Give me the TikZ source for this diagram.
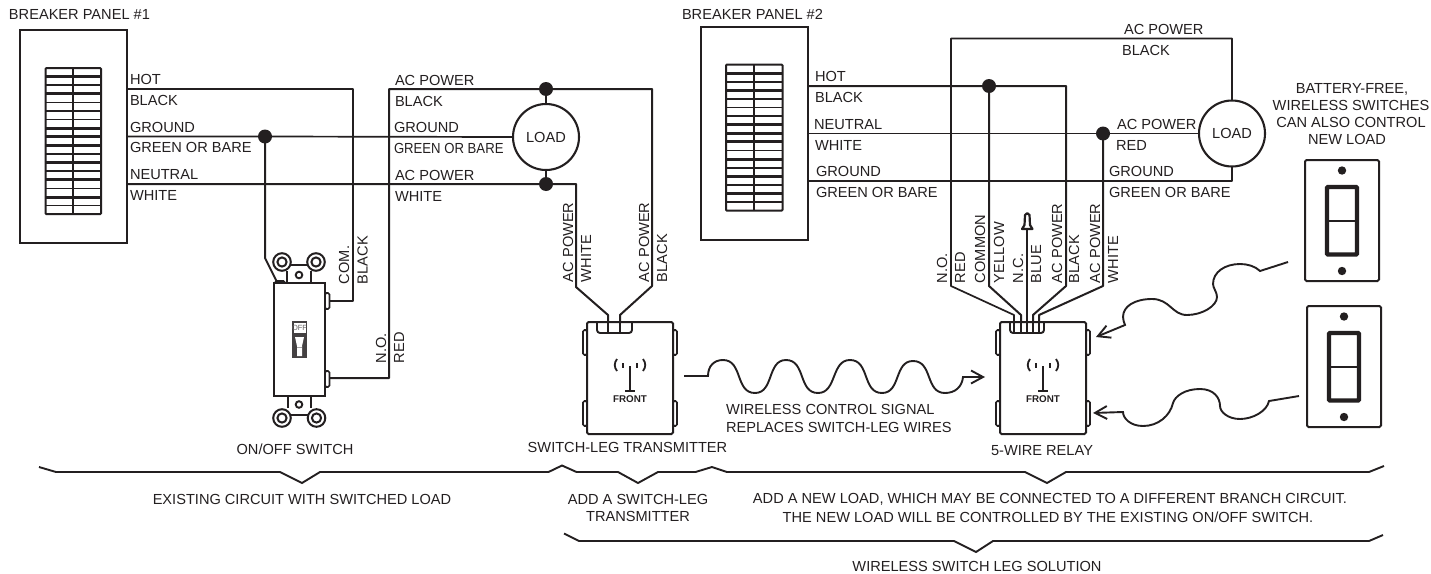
\documentclass[tikz,border=0pt]{standalone}
\usepackage{fontspec}
\setmainfont{Liberation Sans}
\usetikzlibrary{arrows.meta}
\definecolor{ink}{HTML}{231F20}
\tikzset{
  wire/.style={draw=ink,line width=2pt,line join=round},
  thinw/.style={draw=ink,line width=1.7pt,line join=round},
  box/.style={draw=ink,line width=2pt,fill=white,inner sep=0,outer sep=0,rounded corners=1.5pt},
  lab/.style={text=ink,font=\fontsize{14.6}{16}\selectfont,inner sep=0,outer sep=0,text height=10.4pt,text depth=0pt},
  ll/.style={lab,anchor=west},
  rl/.style={lab,anchor=west,rotate=90},
  dotn/.style={circle,fill=ink,inner sep=0,outer sep=0,minimum size=14pt},
  loadn/.style={circle,draw=ink,line width=2.1pt,fill=white,inner sep=0,outer sep=0,minimum size=66pt,text=ink,font=\fontsize{14.6}{16}\selectfont},
  brace/.style={draw=ink,line width=1.9pt,line join=miter},
  arr/.style={draw=ink,line width=1.9pt,-{Straight Barb[length=12pt,width=13pt,line width=1.9pt]}},
}
% breaker grid: #1 left x, #2 top y, #3 pitch, #4 width
\newcommand{\grid}[4]{%
  \draw[draw=ink,line width=2pt,rounded corners=1pt] (#1,#2) rectangle ({#1+#4},{#2+17*#3});
  \foreach \i in {2,4,5,6,10,12,14,16}{\draw[draw=ink,line width=1.7pt] (#1,{#2+\i*#3}) -- ({#1+#4},{#2+\i*#3});}
  \foreach \i in {1,3,7,8,9,11,13,15}{\draw[draw=ink,line width=3pt] (#1,{#2+\i*#3}) -- ({#1+#4},{#2+\i*#3});}
  \draw[draw=ink,line width=2.4pt] ({#1+#4/2},#2) -- ({#1+#4/2},{#2+17*#3});
}
% device housing: #1 name, #2 centre x
\newcommand{\device}[2]{%
  \foreach \yy in {330,401}{
    \draw[box,line width=1.7pt] ({#2-47},\yy) rectangle ({#2-43},{\yy+25});
    \draw[box,line width=1.7pt] ({#2+43},\yy) rectangle ({#2+47},{\yy+25});
  }
  \node[box,minimum width=86pt,minimum height=112pt] (#1) at (#2,378) {};
}
\newcommand{\antenna}[1]{%
  \draw[draw=ink,line width=1.9pt] (#1,366) -- (#1,391);
  \draw[draw=ink,line width=1.9pt] ({#1-5},391) -- ({#1+5},391);
  \draw[draw=ink,line width=1.8pt] ({#1-13},359) .. controls ({#1-16},363) and ({#1-16},367) .. ({#1-13},371);
  \draw[draw=ink,line width=1.8pt] ({#1+13},359) .. controls ({#1+16},363) and ({#1+16},367) .. ({#1+13},371);
  \draw[draw=ink,line width=1.6pt] ({#1-7},363) -- ({#1-7},368);
  \draw[draw=ink,line width=1.6pt] ({#1+7},363) -- ({#1+7},368);
  \node[text=ink,font=\bfseries\fontsize{9.8}{10}\selectfont,inner sep=0] at (#1,399) {FRONT};
}
\newcommand{\ring}[2]{\draw[draw=ink,line width=2pt,fill=white] (#1,#2) circle (8.8); \draw[draw=ink,line width=2pt,fill=white] (#1,#2) circle (4.6);}
\newcommand{\wallplate}[2]{% x left, y top
  \draw[box] (#1,#2) rectangle ({#1+74},{#2+121});
  \fill[ink] ({#1+37},{#2+10.5}) circle (4.2);
  \fill[ink] ({#1+37},{#2+111}) circle (4.2);
  \draw[draw=ink,line width=4.4pt,rounded corners=1pt] ({#1+22},{#2+27}) rectangle ({#1+52},{#2+94.5});
  \draw[draw=ink,line width=1.4pt] ({#1+22},{#2+61}) -- ({#1+52},{#2+61});
}
\begin{document}
\begin{tikzpicture}[x=1pt,y=-1pt]
\useasboundingbox (0,0) rectangle (1431,573);

% ---------- breaker panels
\node[box,minimum width=107pt,minimum height=213pt,rounded corners=0pt] (panelA) at (73.5,136.5) {};
\grid{45.5}{68}{8.6}{55.5}
\node[box,minimum width=107pt,minimum height=213pt,rounded corners=0pt] (panelB) at (754.5,133.5) {};
\grid{726}{64.5}{8.6}{56.5}
\node[ll] at (9,14) {BREAKER PANEL \#1};
\node[ll] at (682,14) {BREAKER PANEL \#2};

% ---------- named parts of circuit 1
\node[dotn] (dotG) at (265,136.5) {};
\node[dotn] (dotP) at (546,89) {};
\node[dotn] (dotN) at (546,184) {};
\node[loadn] (loadA) at (546,137) {LOAD};

% switch terminals
\coordinate (swCom) at (329,301);
\coordinate (swNo) at (329,378);
\coordinate (swGnd) at (277,282);
% transmitter leads
\coordinate (txW) at (608,328);
\coordinate (txB) at (620,328);

% wires circuit 1
\draw[wire] (panelA.east |- 0,89) -- (353,89) -- (353,301) -- (swCom);
\draw[thinw] (panelA.east |- dotG) -- (dotG.center) -- (loadA.west);
\draw[wire] (dotG.center) -- (265,258) -- (swGnd);
\draw[wire] (panelA.east |- dotN) -- (dotN.center) -- (576,184) -- (576,287) -- (608,315) -- (txW);
\draw[wire] (swNo) -- (389,378) -- (389,89) -- (dotP.center) -- (652,89) -- (652,286) -- (620,315) -- (txB);
\draw[wire] (dotP.center) -- (loadA.north);
\draw[wire] (dotN.center) -- (loadA.south);

% labels circuit 1
\node[ll] at (130,79) {HOT};
\node[ll] at (130,100.5) {BLACK};
\node[ll] at (130,127) {GROUND};
\node[ll] at (130,147.5) {GREEN OR BARE};
\node[ll] at (130,174) {NEUTRAL};
\node[ll] at (130,195.5) {WHITE};
\node[ll] at (395,80) {AC POWER};
\node[ll] at (395,101) {BLACK};
\node[ll] at (394,127.5) {GROUND};
\node[ll] at (394,148.5) {\scalebox{0.9}[1]{GREEN OR BARE}};
\node[ll] at (395,175) {AC POWER};
\node[ll] at (395,196) {WHITE};
\node[rl] at (344,284) {COM.};
\node[rl] at (362.5,284) {BLACK};
\node[rl] at (381,363) {N.O.};
\node[rl] at (399,363) {RED};
\node[rl] at (568,282) {AC POWER};
\node[rl] at (586,282) {WHITE};
\node[rl] at (644,282) {AC POWER};
\node[rl] at (662,282) {BLACK};

% ---------- on/off switch
\draw[draw=ink,line width=2pt] (287,283) -- (287,271) (311,283) -- (311,271) (290,264.5) -- (308,264.5);
\draw[draw=ink,line width=2pt] (288,396) -- (288,408) (311,396) -- (311,408) (290,415) -- (308,415);
\ring{282}{262}\ring{316}{262}\ring{282}{418}\ring{316.5}{418}
\draw[draw=ink,line width=1.9pt,fill=white] (299,275) circle (3.3);
\draw[draw=ink,line width=1.9pt,fill=white] (299,404.5) circle (3.3);
\draw[box,line width=1.6pt] (275,281) rectangle (285,284);
\draw[box,line width=1.7pt] (325,293) rectangle (329.5,309);
\draw[box,line width=1.7pt] (325,371) rectangle (329.5,387);
\node[box,minimum width=51.5pt,minimum height=113pt,rounded corners=0pt] (sw) at (299.25,339.5) {};
\fill[ink!85] (292,321) rectangle (307,358);
\fill[white] (293.5,322.5) rectangle (305.5,333);
\node[text=ink!70,font=\fontsize{7.5}{8}\selectfont,inner sep=0] at (299.5,328) {OFF};
\fill[white] (295,337) -- (304,337) -- (302,346) -- (302,356) -- (297,356) -- (297,346) -- cycle;
\fill[white!60!ink] (297,346.5) rectangle (302,348);
\node[lab] at (295,449) {ON/OFF SWITCH};

% ---------- transmitter
\device{tx}{630}
\draw[draw=ink,line width=1.9pt,rounded corners=3pt] (597,322) -- (597,333) -- (632,333) -- (632,322);
\draw[wire] (608,315) -- (txW) -- (608,332);
\draw[wire] (620,315) -- (txB) -- (620,332);
\antenna{630}
\node[lab] at (627.5,447) {SWITCH-LEG TRANSMITTER};

% ---------- wireless signal
\coordinate (sigStart) at (684,376);
\coordinate (sigEnd) at (985,377);
\draw[arr] (sigStart) -- (708,376)
  .. controls (708,366) and (714,360) .. (723,360)
  .. controls (743,360) and (735,393) .. (755,393)
  .. controls (774,393) and (767,360) .. (786,360)
  .. controls (806,360) and (798,393) .. (818,393)
  .. controls (837,393) and (831,360) .. (850,360)
  .. controls (870,360) and (862,393) .. (882,393)
  .. controls (901,393) and (894,361) .. (913,361)
  .. controls (933,361) and (925,393) .. (945,393)
  .. controls (955,393) and (962,387) .. (963,377)
  -- (sigEnd);
\node[ll] at (726,409) {WIRELESS CONTROL SIGNAL};
\node[ll] at (726,427) {REPLACES SWITCH-LEG WIRES};

% ---------- circuit 2
\node[dotn] (dotH) at (989,86) {};
\node[dotn] (dotR) at (1103,133.5) {};
\node[loadn] (loadB) at (1232,133.5) {LOAD};

\coordinate (reNo) at (1014,332);
\coordinate (reCo) at (1021,332);
\coordinate (reNc) at (1027,332);
\coordinate (reBk) at (1033,332);
\coordinate (reWh) at (1039,332);

\draw[wire] (panelB.east |- dotH) -- (dotH.center) -- (1066,86) -- (1066,286) -- (1033,315) -- (reBk);
\draw[thinw] (panelB.east |- loadB.west) -- (dotR.center) -- (loadB.west);
\draw[thinw] (panelB.east |- 0,181) -- (1232,181) -- (loadB.south);
\draw[thinw] (loadB.north) -- (1232,38.5) -- (951,38.5) -- (951,286) -- (1014,315) -- (reNo);
\draw[wire] (dotH.center) -- (989,286) -- (1021,315) -- (reCo);
\draw[wire] (dotR.center) -- (1103,286) -- (1039,315) -- (reWh);
\coordinate (nut) at (1027,229);
\draw[wire] (nut) -- (reNc);
\draw[draw=ink,line width=2.2pt,fill=white,line join=round] (1022,229) -- (1024.5,225) -- (1025,215) .. controls (1025.5,212.5) and (1029,212.5) .. (1029.5,215) -- (1030,225) -- (1032.5,229) -- cycle;

\device{re}{1043}
\draw[draw=ink,line width=1.9pt,rounded corners=3pt] (1010,322) -- (1010,333) -- (1044,333) -- (1044,322);
\foreach \w/\xx in {reNo/1014,reCo/1021,reNc/1027,reBk/1033,reWh/1039}{\draw[draw=ink,line width=1.9pt] (\w) -- (\xx,315);}
\antenna{1043}
\node[lab] at (1042,450) {5-WIRE RELAY};

\node[ll] at (815,76) {HOT};
\node[ll] at (815,97) {BLACK};
\node[ll] at (814,124) {NEUTRAL};
\node[ll] at (815,145) {WHITE};
\node[ll] at (816,171) {GROUND};
\node[ll] at (816,192) {GREEN OR BARE};
\node[ll] at (1124,29) {AC POWER};
\node[ll] at (1122,50) {BLACK};
\node[ll] at (1117,124) {AC POWER};
\node[ll] at (1116,145) {RED};
\node[ll] at (1109,171) {GROUND};
\node[ll] at (1109,192) {GREEN OR BARE};
\node[rl] at (942,283) {N.O.};
\node[rl] at (960,283) {RED};
\node[rl] at (980,283) {COMMON};
\node[rl] at (999,283) {YELLOW};
\node[rl] at (1018,283) {N.C.};
\node[rl] at (1036,283) {BLUE};
\node[rl] at (1057,283) {AC POWER};
\node[rl] at (1074,283) {BLACK};
\node[rl] at (1095,283) {AC POWER};
\node[rl] at (1113,283) {WHITE};

% ---------- wall switches
\wallplate{1305}{160}
\wallplate{1307}{306}
\coordinate (upStart) at (1288,262);
\coordinate (upEnd) at (1096,337);
\coordinate (loStart) at (1299,396);
\coordinate (loEnd) at (1093,413);
\draw[arr] (upStart) -- (1260,271)
  .. controls (1255,266) and (1247,264) .. (1240,264)
  .. controls (1225,264) and (1213,272) .. (1213,284)
  .. controls (1213,288) and (1217,292) .. (1217,297)
  .. controls (1217,306) and (1202,315) .. (1187,315)
  .. controls (1172,315) and (1170,299) .. (1152,299)
  .. controls (1135,299) and (1123,306) .. (1123,317)
  .. controls (1123,320) and (1124,322) .. (1125,325)
  -- (upEnd);
\draw[arr] (loStart) -- (1269,401)
  .. controls (1267,411) and (1253,419) .. (1240,419)
  .. controls (1228,419) and (1220,412) .. (1220,406)
  .. controls (1220,398) and (1214,389) .. (1200,389)
  .. controls (1185,389) and (1175,396) .. (1173,403)
  .. controls (1170,416) and (1158,426) .. (1143,426)
  .. controls (1130,426) and (1123,418) .. (1123,412)
  -- (loEnd);
\node[lab] at (1352,88) {BATTERY-FREE,};
\node[lab] at (1351,105) {WIRELESS SWITCHES};
\node[lab] at (1351,122) {CAN ALSO CONTROL};
\node[lab] at (1347,139) {NEW LOAD};

% ---------- braces
\draw[brace] (39,467) -- (56,472) -- (280,472) -- (302,483) -- (320,472) -- (548.5,472) -- (562,465.5) -- (576.5,472) -- (618,472) -- (638,483) -- (658,472) -- (695.5,472) -- (712,467) -- (727,472) -- (1025,472) -- (1047,483) -- (1066,472) -- (1369,472) -- (1384,466);
\draw[brace] (564,533.5) -- (579,541) -- (954,541) -- (976,552) -- (993,541) -- (1369,541) -- (1383,535);
\node[lab] at (302,499) {EXISTING CIRCUIT WITH SWITCHED LOAD};
\node[lab] at (638,499) {ADD A SWITCH-LEG};
\node[lab] at (638,516) {TRANSMITTER};
\node[lab] at (1050,498) {ADD A NEW LOAD, WHICH MAY BE CONNECTED TO A DIFFERENT BRANCH CIRCUIT.};
\node[lab] at (1048,517) {THE NEW LOAD WILL BE CONTROLLED BY THE EXISTING ON/OFF SWITCH.};
\node[lab] at (977,566) {WIRELESS SWITCH LEG SOLUTION};
\end{tikzpicture}
\end{document}
